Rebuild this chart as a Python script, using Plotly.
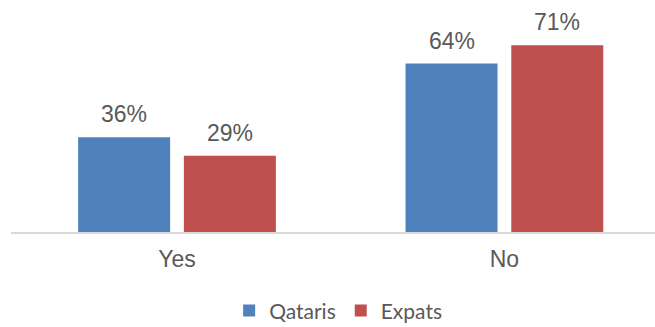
import plotly.graph_objects as go

categories = ["Yes", "No"]
qataris = [36, 64]
expats = [29, 71]
series_names = ["Qataris", "Expats"]
colors = ["#4F81BD", "#C0504D"]

label_font = dict(family="Liberation Sans, Arial, sans-serif", size=23, color="#595959")

positions = list(range(len(categories)))

fig = go.Figure()
bar_width = 0.281
offsets = [-0.302, 0.021]
for name, vals, col, off in zip(series_names, [qataris, expats], colors, offsets):
    fig.add_trace(go.Bar(
        x=positions, y=vals, name=name,
        marker=dict(color=col, line=dict(width=0)),
        width=bar_width, offset=off,
    ))
    for cat_i, v in zip(positions, vals):
        fig.add_annotation(
            x=cat_i + off + bar_width / 2, y=v, text=f"{v}%",
            showarrow=False, yanchor="bottom", yshift=8,
            font=label_font,
        )

fig.update_layout(
    width=655, height=327,
    margin=dict(l=11, r=0, t=21, b=95, autoexpand=False),
    paper_bgcolor="white", plot_bgcolor="white",
    barmode="overlay",
    showlegend=True,
    legend=dict(
        orientation="h", x=0.508, xanchor="center", y=-0.374, yanchor="middle",
        font=dict(family="Lato, Liberation Sans, sans-serif", size=21, color="#595959"),
        itemwidth=30, traceorder="normal",
    ),
    xaxis=dict(
        type="linear", range=[-0.507, 1.46],
        tickvals=positions, ticktext=categories,
        showgrid=False, zeroline=False,
        showline=True, linecolor="#D9D9D9", linewidth=2,
        ticks="outside", ticklen=5, tickcolor="rgba(0,0,0,0)",
        tickfont=label_font,
    ),
    yaxis=dict(
        range=[0, 80.2], visible=False, showgrid=False, zeroline=False,
    ),
)

fig.write_html("out.html")
